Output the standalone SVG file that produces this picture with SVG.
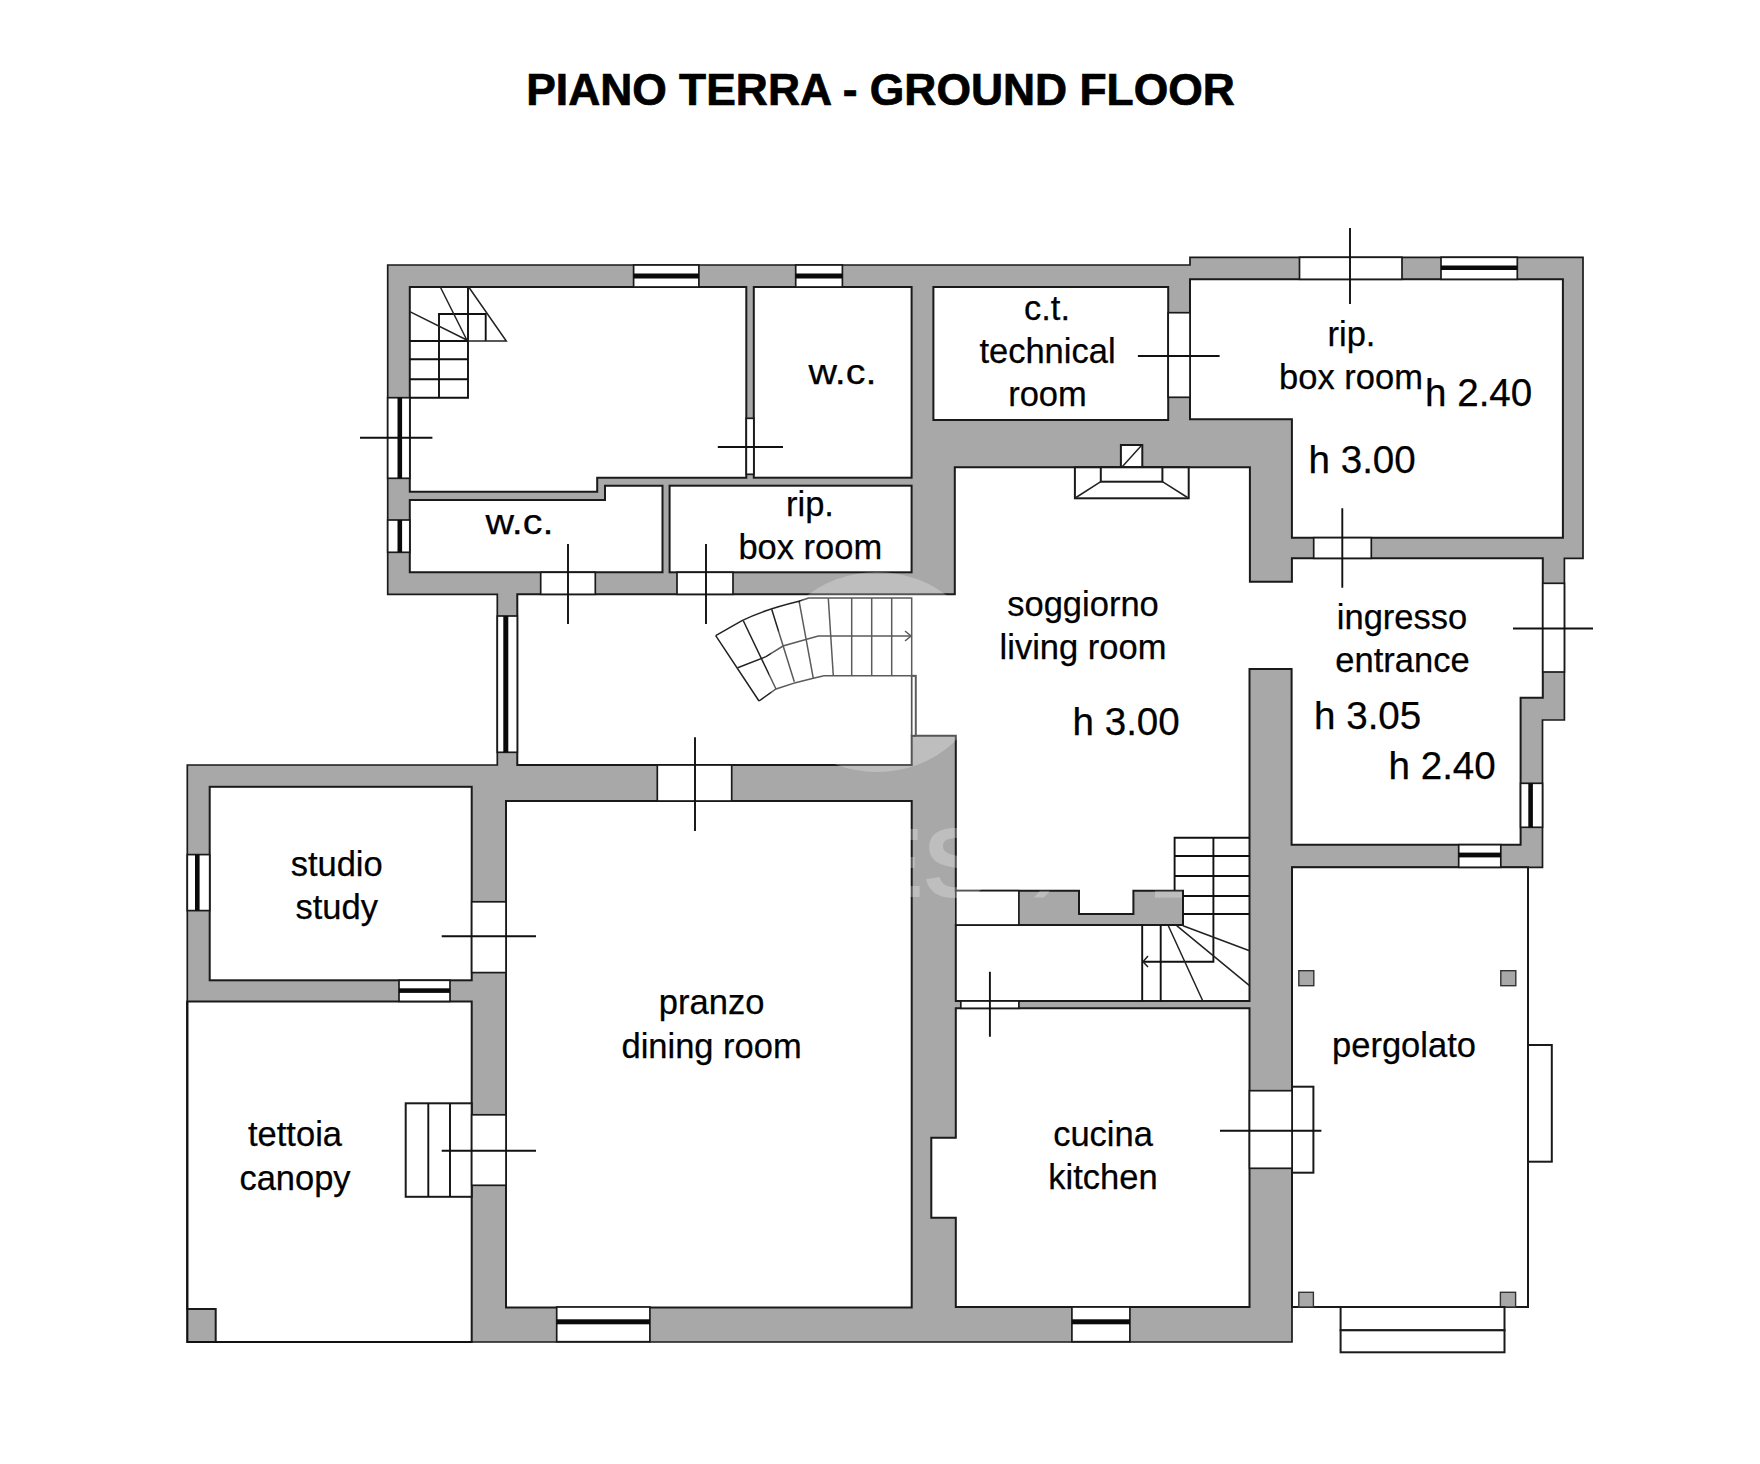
<svg xmlns="http://www.w3.org/2000/svg" width="1760" height="1464" viewBox="0 0 1760 1464">
<style>
.wall{fill:#a8a8a8;stroke:#1a1a1a;stroke-width:1.7;stroke-linejoin:miter}
.room{fill:#fff;stroke:#1a1a1a;stroke-width:2;stroke-linejoin:miter}
.open{fill:#fff;stroke:#1a1a1a;stroke-width:1.7}
.post{fill:#a8a8a8;stroke:#333;stroke-width:1.4}
.bar{fill:#0a0a0a;stroke:none}
.ln{fill:none;stroke:#111;stroke-width:1.9}
.thin{fill:none;stroke:#222;stroke-width:1.5}
.tx{font-family:"Liberation Sans",Arial,sans-serif;font-size:34.5px;fill:#000;stroke:#000;stroke-width:.25;text-anchor:middle}
.h{font-size:38.6px;text-anchor:start}
.title{font-family:"Liberation Sans",Arial,sans-serif;font-weight:700;font-size:44.4px;fill:#000;stroke:#000;stroke-width:.7;text-anchor:middle}
.wm{fill:#fff;fill-opacity:.26;stroke:none}
</style>
<rect width="1760" height="1464" fill="#fff"/>
<text class="title" x="880.5" y="105">PIANO TERRA - GROUND FLOOR</text>

<g id="structure">
<polygon class="wall" points="387.7,265 1190,265 1190,257.3 1583,257.3 1583,558.3 1564.4,558.3 1564.4,720 1542.5,720 1542.5,867.3 1292,867.3 1292,1342 187.3,1342 187.3,765 497.3,765 497.3,594.3 387.7,594.3"/>
</g>

<g id="tettoia">
<polygon class="room" points="187.3,1001.4 471.7,1001.4 471.7,1342 215.7,1342 215.7,1309 187.3,1309"/>
<polyline class="ln" points="187.3,1001.4 187.3,1342 471.7,1342"/>
<rect class="room" x="405.7" y="1103.3" width="66" height="93.5"/>
<path class="ln" d="M428.3 1103.3V1196.8M450 1103.3V1196.8"/>
<text class="tx" x="295" y="1146">tettoia</text>
<text class="tx" x="295" y="1189.5">canopy</text>
</g>

<g id="studio">
<rect class="room" x="209.7" y="786.8" width="262" height="193.5"/>
<text class="tx" x="336.7" y="875.5">studio</text>
<text class="tx" x="336.7" y="918.5">study</text>
</g>

<g id="pranzo">
<rect class="room" x="506" y="801" width="405.7" height="506.5"/>
<text class="tx" x="711.6" y="1014">pranzo</text>
<text class="tx" x="711.6" y="1057.8">dining room</text>
</g>

<g id="cucina">
<polygon class="room" points="955.8,1008.3 1249.5,1008.3 1249.5,1307 955.8,1307 955.8,1217.7 931.3,1217.7 931.3,1137.7 955.8,1137.7"/>
<text class="tx" x="1103" y="1146">cucina</text>
<text class="tx" x="1103" y="1188.5">kitchen</text>
</g>

<g id="pergolato">
<polygon class="room" points="1292,867.3 1528,867.3 1528,1307 1292,1307"/>
<rect class="post" x="1298.8" y="970.7" width="15" height="15"/>
<rect class="post" x="1500.8" y="970.7" width="15" height="15"/>
<rect class="post" x="1298.8" y="1292.3" width="14.6" height="14.7"/>
<rect class="post" x="1500.4" y="1292.3" width="15.2" height="14.7"/>
<rect class="room" x="1528" y="1045" width="23.8" height="116.7"/>
<rect class="room" x="1292" y="1086.7" width="21.4" height="86"/>
<rect class="room" x="1340.6" y="1307" width="163.9" height="23.3"/>
<rect class="room" x="1340.6" y="1330.3" width="163.9" height="22"/>
<text class="tx" x="1404" y="1056.5">pergolato</text>
</g>

<g id="living-hall-entrance">
<polygon class="room" points="954.8,467.3 1249.9,467.3 1249.9,581.7 1291.9,581.7 1291.9,558.3 1542.8,558.3 1542.8,697.7 1520.6,697.7 1520.6,844.7 1291.6,844.7 1291.6,669 1249.5,669 1249.5,1001 955.8,1001 955.8,925 1183,925 1183,890.7 1133.4,890.7 1133.4,914 1079,914 1079,890.7 955.8,890.7 955.8,735.7 911.7,735.7 911.7,765 517.3,765 517.3,594.3 954.8,594.3"/>
<text class="tx" x="1083" y="615.8">soggiorno</text>
<text class="tx" x="1083" y="659">living room</text>
<text class="tx h" x="1072.5" y="734.8">h 3.00</text>
<text class="tx" x="1402" y="629">ingresso</text>
<text class="tx" x="1402.5" y="672.3">entrance</text>
<text class="tx h" x="1314" y="729">h 3.05</text>
<text class="tx h" x="1388.5" y="778.5">h 2.40</text>
</g>

<g id="fireplace">
<rect class="room" x="1120.9" y="445" width="21.4" height="22.3"/>
<path class="thin" d="M1122 467L1141 446"/>
<rect class="room" x="1074.9" y="467.3" width="113.8" height="31"/>
<rect class="room" x="1100.8" y="467.3" width="61.6" height="14.4"/>
<path class="thin" d="M1100.8 481.7L1076 497.5M1162.4 481.7L1187.5 497.5"/>
</g>

<g id="wc-upper">
<rect class="room" x="753.8" y="287" width="157.8" height="190.7"/>
<text class="tx" x="842.4" y="384" textLength="68" lengthAdjust="spacingAndGlyphs">w.c.</text>
</g>
<g id="stair-room">
<polygon class="room" points="409.8,287 746.3,287 746.3,477.7 597.2,477.7 597.2,491.7 409.8,491.7"/>
</g>
<g id="wc-lower">
<polygon class="room" points="409.8,500 605,500 605,485.7 662.5,485.7 662.5,572.3 409.8,572.3"/>
<text class="tx" x="519.5" y="534" textLength="68" lengthAdjust="spacingAndGlyphs">w.c.</text>
</g>
<g id="rip-lower">
<rect class="room" x="669.6" y="485.7" width="242" height="86.6"/>
<text class="tx" x="810" y="516">rip.</text>
<text class="tx" x="810.3" y="558.8">box room</text>
</g>
<g id="ct">
<rect class="room" x="933.4" y="287" width="234.8" height="133"/>
<text class="tx" x="1047" y="320">c.t.</text>
<text class="tx" x="1047.5" y="363.2">technical</text>
<text class="tx" x="1047.5" y="406">room</text>
</g>
<g id="rip-upper">
<polygon class="room" points="1190,279.3 1562.9,279.3 1562.9,537.7 1291.9,537.7 1291.9,419.3 1190,419.3"/>
<text class="tx" x="1351.5" y="346">rip.</text>
<text class="tx" x="1351" y="388.5">box room</text>
<text class="tx h" x="1425" y="405.8">h 2.40</text>
<text class="tx h" x="1308.5" y="473">h 3.00</text>
</g>

<g id="openings">
<rect class="open" x="633.6" y="265" width="65.3" height="22"/><rect class="bar" x="633.6" y="273.5" width="65.3" height="5"/>
<rect class="open" x="795.7" y="265" width="46.7" height="22"/><rect class="bar" x="795.7" y="273.5" width="46.7" height="5"/>
<rect class="open" x="387.7" y="397.7" width="22.1" height="80.6"/><rect class="bar" x="397.5" y="397.7" width="4.6" height="80.6"/>
<rect class="open" x="387.7" y="520" width="22.1" height="32.3"/><rect class="bar" x="397.5" y="520" width="4.6" height="32.3"/>
<rect class="open" x="540.7" y="572.3" width="54.6" height="22"/>
<rect class="open" x="677" y="572.3" width="56" height="22"/>
<rect class="open" x="746.3" y="418.3" width="7.5" height="56"/>
<rect class="open" x="497.3" y="616" width="20" height="136.3"/><rect class="bar" x="503.3" y="616" width="5" height="136.3"/>
<rect class="open" x="657.3" y="765" width="74.4" height="36"/>
<rect class="open" x="911.7" y="675.7" width="4" height="60"/>
<rect class="open" x="1168.2" y="312.7" width="21.8" height="84.6"/>
<rect class="open" x="1299.5" y="257.3" width="102.5" height="22"/>
<rect class="open" x="1441" y="257.3" width="76.3" height="22"/><rect class="bar" x="1441" y="265.5" width="76.3" height="4.5"/>
<rect class="open" x="1313.7" y="537.7" width="57.6" height="20.6"/>
<rect class="open" x="1542.8" y="583.3" width="21.6" height="88.7"/>
<rect class="open" x="1520.6" y="783.3" width="21.9" height="44"/><rect class="bar" x="1528.3" y="783.3" width="4.6" height="44"/>
<rect class="open" x="1458.7" y="844.7" width="42.1" height="22.6"/><rect class="bar" x="1458.7" y="852.6" width="42.1" height="4.8"/>
<rect class="open" x="955.8" y="890.7" width="63.1" height="34.3"/>
<rect class="open" x="960.8" y="1001" width="58.1" height="7.3"/>
<rect class="open" x="1249.5" y="1090.7" width="42.5" height="77.6"/>
<rect class="open" x="1071.9" y="1307" width="58" height="34.7"/><rect class="bar" x="1071.9" y="1319.3" width="58" height="5"/>
<rect class="open" x="556.7" y="1307" width="93.2" height="34.7"/><rect class="bar" x="556.7" y="1319.3" width="93.2" height="5"/>
<rect class="open" x="187.3" y="854.6" width="22.4" height="56"/><rect class="bar" x="195" y="854.6" width="4.6" height="56"/>
<rect class="open" x="471.7" y="901.8" width="34.3" height="70.8"/>
<rect class="open" x="399" y="980.3" width="51" height="21.1"/><rect class="bar" x="399" y="988.3" width="51" height="4.6"/>
<rect class="open" x="471.7" y="1114.8" width="34.3" height="70.5"/>
</g>

<g id="stairs">
<path class="ln" d="M468 287V397.7H409.8M409.8 341H468M409.8 359.3H468M409.8 379.3H468M439 397.7V314H485.7V341"/>
<path class="thin" d="M468 341H506.3L468.7 287M440.3 287L466.8 340M409.8 311.7L466.8 340"/>
<path class="thin" d="M808.3 598H911.7V675.7H915.7V735.7"/>
<path class="thin" d="M915.7 675.7H823M715.7 635.7L742 620.7Q763 610 799 601.3L808.7 598M759 701L776 689Q795 682.3 813.3 678.3L823 676"/>
<path class="thin" d="M737.7 667.7L766 656.7L783 646L806.7 639.3L818.3 636H911.7"/>
<path class="thin" d="M715.7 635.7L759 701M743.3 620.7L776 689M771.7 609.3L794.3 681.7M799 600.7L813.3 678.3M828.3 598.3L833.3 675.7M851.7 598V675.7M871.7 598V675.7M891.7 598V675.7"/>
<path class="thin" d="M905 631L911 636L905 641"/>
<path class="ln" d="M1174.6 890.7V837.7H1249.5M1174.6 856H1249.5M1174.6 876H1249.5M1183 896H1249.5M1183 914H1249.5M1213.4 837.7V961.7H1143"/>
<path class="ln" d="M1142.2 925V1001M1160.7 925V1001"/>
<path class="thin" d="M1168.3 925.7L1202.8 1001M1176.7 925.7L1249.5 985.7M1183 925.7L1249.5 950.7"/>
<path class="thin" d="M1148 956L1143 961.7L1148 967"/>
</g>

<g id="door-marks">
<path class="ln" d="M360 437.7H432.4M717.8 447H783M568 544V624M706 544V624M695 737.3V831M1350 228V304M1137.9 356H1219.6M1342.3 508.3V587.7M1513 628.5H1593M441.7 936.2H536M441.7 1150.8H536M989.9 971.7V1036.7M1220 1130.7H1321.4"/>
</g>

<g id="watermark">
<ellipse class="wm" cx="877" cy="672" rx="108" ry="100"/>
<text x="858" y="897" style="font-family:'Liberation Sans',Arial,sans-serif;font-weight:700;font-size:98px;fill:#fff;fill-opacity:.26">ES</text>
<polygon class="wm" points="1040,890.7 1050,890.7 1044,897.5 1034,897.5"/>
<rect class="wm" x="1155" y="890.7" width="27" height="7"/>
</g>
</svg>
